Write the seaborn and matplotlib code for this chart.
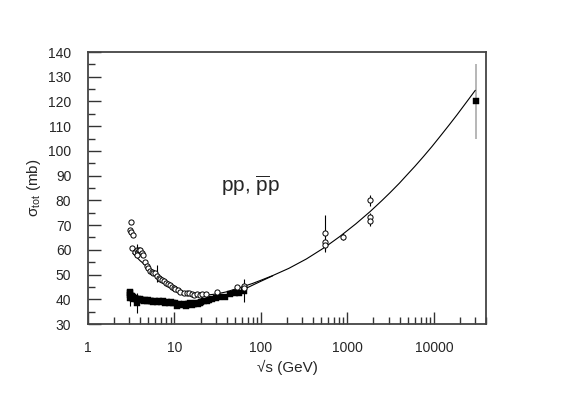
import numpy as np
import pandas as pd
import matplotlib
matplotlib.use('Agg')
import matplotlib.pyplot as plt
import matplotlib.ticker as mticker
import seaborn as sns

# %% data

# pbar-p, open circles
pbp_sqrt_s = [3.12, 3.06, 3.16, 3.28, 3.2, 3.5, 3.67, 3.83, 3.9, 4.0, 4.18, 4.37, 3.67,
              4.58, 4.8, 5.0, 5.25, 5.48, 5.7, 5.98, 6.25, 6.55, 6.85, 7.15, 7.47,
              8.0, 8.5, 8.9, 9.3, 9.8, 10.2, 11.0, 11.7, 12.8, 13.9, 14.8, 15.9,
              17.0, 18.2, 19.5, 20.8, 23.0, 30.9, 52.8, 63.0, 63.0,
              546, 546, 546, 900, 1800, 1800, 1800]
pbp_sigma = [71.3, 68.0, 67.1, 66.0, 60.6, 59.2, 59.9, 59.2, 59.9, 59.9, 58.6, 57.9, 57.9,
             55.2, 53.5, 52.5, 51.6, 51.2, 50.6, 50.5, 49.4, 48.8, 48.1, 47.8, 47.5,
             46.7, 46.1, 45.6, 44.8, 44.6, 44.0, 43.6, 43.1, 42.6, 42.4, 42.7, 42.0,
             41.8, 42.0, 41.6, 42.0, 42.1, 43.1, 44.8, 45.4, 44.6,
             66.7, 63.2, 62.0, 65.3, 80.1, 73.1, 71.8]

# pp, filled squares
pp_sqrt_s = [3.02, 3.05, 3.08, 3.1, 3.12, 3.15, 3.2, 3.25, 3.3, 3.4,
             3.5, 3.6, 3.67, 3.75, 3.85, 3.95, 4.1, 4.25, 4.4, 4.6,
             4.8, 5.0, 5.2, 5.4, 5.7, 6.0, 6.3, 6.6, 7.0, 7.4,
             7.8, 8.2, 8.7, 9.2, 9.7, 10.2, 10.8, 11.4, 12.0, 12.8,
             13.5, 14.2, 15.0, 15.8, 16.6, 17.5, 18.5, 19.5, 20.5, 22.0,
             23.5, 25.0, 27.0, 30.0, 33.0, 38.0, 44.0, 50.0, 55.0, 63.0,
             30700]
pp_sigma = [42.8, 41.9, 42.4, 40.7, 41.5, 40.9, 41.3, 40.6, 41.0, 40.2,
            40.5, 40.1, 38.4, 40.3, 39.8, 40.0, 39.6, 39.9, 39.4, 39.7,
            39.3, 39.6, 39.2, 39.4, 39.0, 39.3, 38.9, 39.2, 38.8, 39.1,
            38.6, 38.9, 38.5, 38.7, 38.3, 38.6, 37.4, 38.0, 37.7, 38.1,
            37.2, 37.9, 38.3, 37.5, 38.0, 38.4, 38.1, 38.6, 38.9, 39.1,
            39.4, 39.8, 40.0, 40.4, 40.8, 41.1, 42.1, 42.4, 42.7, 43.5,
            120.0]

# error bars that are visible in the picture
pbp_eb_x = [3.7, 6.2, 546, 546, 900, 1800, 1800]
pbp_eb_y = [59.9, 50.5, 66.7, 62.0, 65.3, 80.1, 72.2]
pbp_eb_err = [2.5, 3.5, 7.5, 2.0, 1.5, 2.2, 2.6]

pp_eb_x = [3.1, 3.67, 63.0]
pp_eb_y = [40.7, 38.4, 43.5]
pp_eb_err = [3.5, 4.0, 4.5]

cosmic_x = [30700]
cosmic_y = [120.0]
cosmic_err = [15.0]

# fit curves
fit_pbp_x = [3.3, 4.0, 5.0, 5.7, 7.0, 8.9, 10.5, 12.7, 16, 20, 25, 30, 40, 61.7, 80,
             100, 137, 210, 335, 547, 817, 1250, 1820, 2500, 3106, 4000, 4850,
             6000, 7560, 9500, 11800, 15000, 18400, 24000, 30060]
fit_pbp_y = [58.6, 55.6, 52.8, 51.2, 48.6, 45.8, 44.3, 43.1, 42.2, 41.8, 41.8, 42.1, 43.0, 45.1, 46.4,
             47.7, 49.6, 52.5, 56.3, 61.0, 65.4, 70.5, 75.4, 79.9, 83.1, 87.0, 90.2,
             93.7, 97.7, 101.8, 105.9, 110.5, 114.5, 119.9, 124.5]
fit_pp_x = [3.0, 4.0, 5.0, 7.0, 10, 14, 20, 30, 45, 61.7, 80, 100, 137]
fit_pp_y = [41.0, 40.2, 39.6, 39.0, 38.7, 38.7, 39.2, 40.3, 42.0, 43.8, 45.7, 47.3, 49.5]

# %% plot
sns.set_style('white')
plt.rcParams['font.family'] = ['Liberation Sans', 'DejaVu Sans']
plt.rcParams['mathtext.fontset'] = 'custom'
plt.rcParams['mathtext.rm'] = 'Liberation Sans'
plt.rcParams['mathtext.it'] = 'Liberation Sans'

fig = plt.figure(figsize=(5.61, 3.94), dpi=100)
ax = fig.add_axes([88/561, 1-324/394, (486-88)/561, (324-52)/394])

dfPbp = pd.DataFrame({'sqrt_s': pbp_sqrt_s, 'sigma': pbp_sigma})
dfPp = pd.DataFrame({'sqrt_s': pp_sqrt_s, 'sigma': pp_sigma})

# error bars first so markers sit on top
ax.errorbar(pbp_eb_x, pbp_eb_y, yerr=pbp_eb_err, fmt='none', ecolor='black', elinewidth=0.8, zorder=2)
ax.errorbar(pp_eb_x, pp_eb_y, yerr=pp_eb_err, fmt='none', ecolor='black', elinewidth=0.8, zorder=2)
ax.errorbar(cosmic_x, cosmic_y, yerr=cosmic_err, fmt='none', ecolor='#aaaaaa', elinewidth=1.2, zorder=2)

sns.lineplot(x=fit_pp_x, y=fit_pp_y, ax=ax, color='black', linewidth=0.8, sort=False, estimator=None, zorder=3)
sns.lineplot(x=fit_pbp_x, y=fit_pbp_y, ax=ax, color='black', linewidth=0.8, sort=False, estimator=None, zorder=3)

sns.scatterplot(data=dfPp, x='sqrt_s', y='sigma', ax=ax, marker='s', s=14,
                color='black', edgecolor='black', linewidth=0.3, zorder=4)
sns.scatterplot(data=dfPbp, x='sqrt_s', y='sigma', ax=ax, marker='o', s=14,
                facecolor='white', edgecolor='black', linewidth=0.7, zorder=5)

ax.set_xscale('log')
ax.set_xlim(1, 4e4)
ax.set_ylim(30, 140)

ax.xaxis.set_major_locator(mticker.LogLocator(base=10, numticks=10))
ax.xaxis.set_minor_locator(mticker.LogLocator(base=10, subs=np.arange(2, 10), numticks=20))
ax.xaxis.set_major_formatter(mticker.FuncFormatter(lambda v, p: '%d' % v))
ax.xaxis.set_minor_formatter(mticker.NullFormatter())
ax.yaxis.set_major_locator(mticker.MultipleLocator(10))
ax.yaxis.set_minor_locator(mticker.MultipleLocator(5))

ax.tick_params(which='major', direction='in', length=9, width=1, color='#333333',
               labelsize=10, pad=12, bottom=True, left=True, top=False, right=False)
ax.tick_params(which='minor', direction='in', length=5, width=1, color='#333333',
               bottom=True, left=True, top=False, right=False)

for sp in ax.spines.values():
    sp.set_color('#444444')
    sp.set_linewidth(1.3)

ax.set_xlabel('√s (GeV)', fontsize=11, labelpad=4)
ax.set_ylabel('σ$_{\\mathrm{tot}}$ (mb)', fontsize=11, labelpad=4)

ax.text(75, 86, 'pp, $\\overline{\\mathrm{p}}$p', fontsize=15, ha='center', va='center')

plt.savefig('out.png', dpi=100)
